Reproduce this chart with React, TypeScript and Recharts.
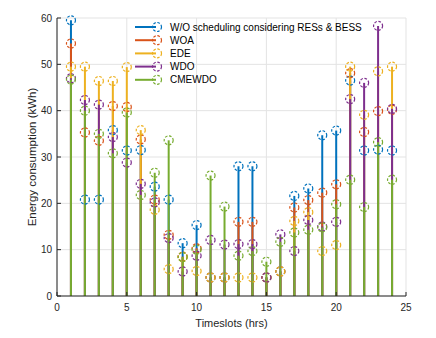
import { CartesianGrid, ComposedChart, ErrorBar, Legend, Scatter, XAxis, YAxis } from "recharts";

const timeslots = [1, 2, 3, 4, 5, 6, 7, 8, 9, 10, 11, 12, 13, 14, 15, 16, 17, 18, 19, 20, 21, 22, 23, 24];

const woScheduling = [59.5, 20.8, 20.8, 35.8, 31.4, 31.5, 23.6, 20.8, 11.4, 15.3, 4.0, 4.0, 28.0, 28.0, 4.0, 5.3, 21.6, 23.2, 34.7, 35.7, 46.5, 31.4, 31.6, 31.4];
const woa = [54.5, 35.3, 33.5, 41.0, 40.8, 33.8, 20.8, 13.2, 8.5, 10.3, 4.0, 4.0, 16.0, 16.0, 4.0, 5.3, 19.1, 20.7, 22.3, 24.1, 48.1, 35.4, 39.9, 40.2];
const ede = [49.5, 49.5, 46.4, 46.4, 49.4, 35.8, 18.6, 5.8, 8.4, 5.4, 4.0, 4.0, 4.0, 4.0, 4.0, 5.3, 16.2, 18.1, 9.7, 11.0, 49.5, 39.1, 48.5, 49.5];
const wdo = [47.0, 42.3, 41.3, 34.3, 28.8, 24.2, 20.2, 12.5, 5.3, 8.7, 12.1, 11.1, 11.2, 11.2, 4.0, 13.3, 9.7, 16.4, 15.0, 16.0, 42.5, 46.0, 58.3, 40.4];
const cmewdo = [46.7, 40.0, 35.0, 30.8, 39.6, 21.8, 26.6, 33.6, 8.4, 10.0, 26.0, 19.3, 8.7, 9.7, 7.4, 11.7, 13.7, 14.3, 14.8, 19.8, 25.1, 19.2, 33.2, 25.1];

const xTicks = [0, 5, 10, 15, 20, 25];
const yTicks = [0, 10, 20, 30, 40, 50, 60];

const series = [
  { name: "W/O scheduling considering RESs & BESS", values: woScheduling, color: "#0072BD" },
  { name: "WOA", values: woa, color: "#D95319" },
  { name: "EDE", values: ede, color: "#EDB120" },
  { name: "WDO", values: wdo, color: "#7E2F8E" },
  { name: "CMEWDO", values: cmewdo, color: "#77AC30" },
];

const AXIS = "#262626";
const FONT = "'Liberation Sans', Arial, sans-serif";

function marker(color: string) {
  return (props: any) => (
    <circle
      cx={props.cx}
      cy={props.cy}
      r={4.5}
      fill="none"
      stroke={color}
      strokeWidth={1.2}
      strokeDasharray="2.6 1.6"
    />
  );
}

function StemLegend() {
  return (
    <svg width={240} height={70}>
      {series.map((s, i) => {
        const y = 9 + i * 13.2;
        return (
          <g key={s.name}>
            <line x1={7} x2={28} y1={y} y2={y} stroke={s.color} strokeWidth={2} />
            <circle cx={29} cy={y} r={4.5} fill="none" stroke={s.color} strokeWidth={1.2} strokeDasharray="2.6 1.6" />
            <text x={42} y={y + 3.5} fontSize={10} fill="#000" fontFamily={FONT}>
              {s.name}
            </text>
          </g>
        );
      })}
    </svg>
  );
}

export default function App() {
  return (
    <div style={{ position: "absolute", left: 0, top: 0, background: "#fff" }}>
      <ComposedChart width={436} height={338} margin={{ top: 18, right: 30, bottom: 2, left: 7 }} style={{ fontFamily: FONT }}>
        <CartesianGrid stroke="#e3e3e3" strokeWidth={1} />
        <XAxis
          type="number"
          dataKey="x"
          domain={[0, 25]}
          ticks={xTicks}
          height={40}
          stroke={AXIS}
          tickSize={-4}
          tickMargin={12}
          tick={{ fill: AXIS, fontSize: 10 }}
          label={{ value: "Timeslots (hrs)", position: "center", dy: 7, fill: AXIS, fontSize: 11 }}
        />
        <XAxis xAxisId="top" orientation="top" type="number" domain={[0, 25]} height={0} stroke={AXIS} tick={false} />
        <YAxis
          type="number"
          dataKey="y"
          domain={[0, 60]}
          ticks={yTicks}
          width={50}
          stroke={AXIS}
          tickSize={-4}
          tickMargin={9}
          tick={{ fill: AXIS, fontSize: 10 }}
          label={{ value: "Energy consumption (kWh)", angle: -90, position: "center", fill: AXIS, fontSize: 11.5 }}
        />
        <YAxis yAxisId="right" orientation="right" type="number" domain={[0, 60]} width={0} stroke={AXIS} tick={false} />
        {series.map((s) => (
          <Scatter
            key={s.name}
            name={s.name}
            data={timeslots.map((t, i) => ({ x: t, y: s.values[i], err: [s.values[i], 0] }))}
            fill={s.color}
            shape={marker(s.color)}
            isAnimationActive={false}
          >
            <ErrorBar dataKey="err" direction="y" width={0} stroke={s.color} strokeWidth={2} isAnimationActive={false} />
          </Scatter>
        ))}
        <Legend
          verticalAlign="middle"
          align="center"
          layout="horizontal"
          content={() => <StemLegend />}
          wrapperStyle={{ left: 128, top: 18, width: 240, height: 70 }}
        />
      </ComposedChart>
    </div>
  );
}
